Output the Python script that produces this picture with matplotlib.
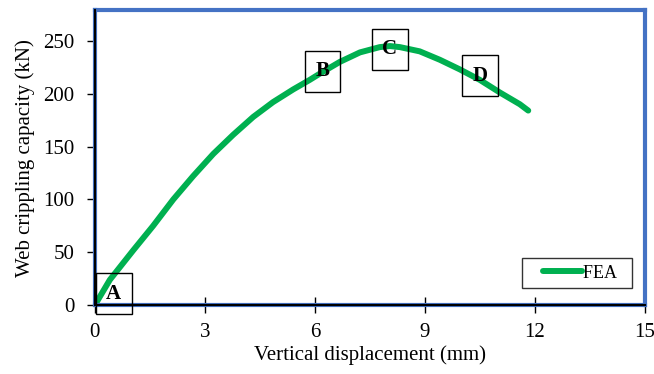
import matplotlib.pyplot as plt
from matplotlib.legend_handler import HandlerLine2D
from matplotlib.lines import Line2D

plt.rcParams['font.family'] = ['Liberation Serif', 'DejaVu Serif']

# FEA curve
disp = [0, 0.41, 1.05, 1.59, 2.14, 2.68, 3.23, 3.77, 4.32, 4.86, 5.41, 5.86, 6.14, 6.68,
        7.23, 7.77, 8.05, 8.32, 8.86, 9.41, 9.95, 10.5, 11.05, 11.59, 11.82]
load = [0, 24, 52, 75, 100, 122, 143, 161, 178, 192, 204, 213, 219, 230,
        239, 244, 245, 244, 240, 232, 223, 213, 201, 190, 184]

# labelled points
pt_labels = ['A', 'B', 'C', 'D']
pt_x = [0.51, 6.22, 8.04, 10.51]
pt_y = [11, 221, 242, 217]

blue = '#4472C4'
green = '#00B050'

fig = plt.figure(figsize=(6.54, 3.74), dpi=100)
ax = fig.add_axes([0.145, 0.184, 0.841, 0.789])

ax.plot(disp, load, color=green, lw=4.3, label='FEA  ', solid_capstyle='round',
        solid_joinstyle='round')

for lab, x, y in zip(pt_labels, pt_x, pt_y):
    ax.text(x, y, lab, fontsize=15, fontweight='bold', ha='center', va='center',
            bbox=dict(boxstyle='square,pad=0.5', fc='none', ec='black', lw=1))

ax.set_xlim(0, 15)
ax.set_ylim(0, 279)
ax.set_xticks([0, 3, 6, 9, 12, 15])
ax.set_yticks([0, 50, 100, 150, 200, 250])

for s in ax.spines.values():
    s.set_color(blue)
    s.set_linewidth(3)
ax.axvline(0, color='black', lw=1.5, clip_on=False, zorder=3)
ax.axhline(0, color='black', lw=1.5, clip_on=False, zorder=3)

ax.tick_params(axis='y', direction='out', length=6, width=1, color='black',
               labelsize=15, pad=8.5)
ax.tick_params(axis='x', direction='inout', length=11, width=1, color='black',
               labelsize=15, pad=7.5)

ax.set_xlabel('Vertical displacement (mm)', fontsize=15, labelpad=2)
ax.set_ylabel('Web crippling capacity (kN)', fontsize=15, labelpad=6)

leg = ax.legend(loc='lower right', bbox_to_anchor=(0.976, 0.058), fontsize=13,
                frameon=True, fancybox=False, edgecolor='black', handlelength=3.0,
                handletextpad=0.05, borderpad=0.35, borderaxespad=0,
                handler_map={Line2D: HandlerLine2D(xpad=0.8)})
leg.get_frame().set_linewidth(1)

fig.savefig('out.png', dpi=100)
